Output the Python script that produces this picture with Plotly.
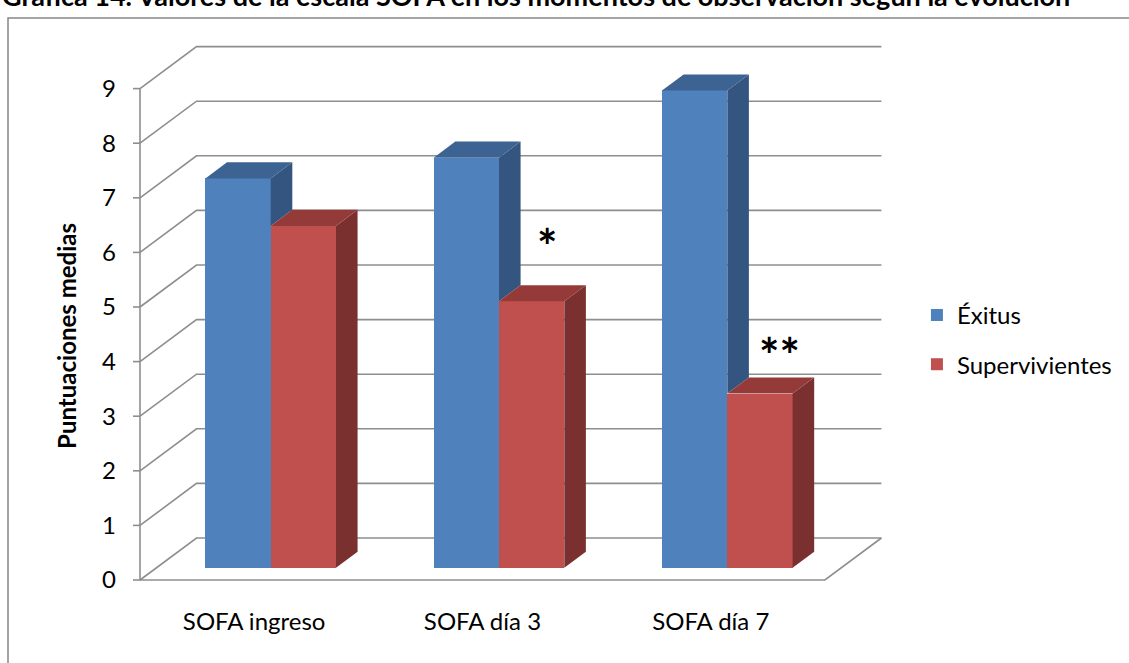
import plotly.graph_objects as go

# ---- data -------------------------------------------------------------
categories = ["SOFA ingreso", "SOFA día 3", "SOFA día 7"]
exitus = [7.13, 7.51, 8.74]
supervivientes = [6.26, 4.88, 3.19]
y_ticks = list(range(0, 10))
significance = ["", "*", "**"]
title_text = ("Gráfica 14. Valores de la escala SOFA en los momentos de "
              "observación según la evolución")

# ---- pseudo-3D geometry (in axis units) -------------------------------
DX, DY = 0.2475, 0.769        # depth offset of the back wall
T0, T1 = 0.293, 0.675         # bar front / back depth (fraction of DX, DY)
W = 0.286                     # bar width (category units)

FONT = "Lato, 'Open Sans', sans-serif"
GRID = "#8e8e8e"

front = {"Éxitus": "#4F81BD", "Supervivientes": "#C0504D"}
top = {"Éxitus": "#3C6392", "Supervivientes": "#943B39"}
side = {"Éxitus": "#33557F", "Supervivientes": "#79302E"}

# where each significance mark sits (x in categories, y in score units)
mark_pos = {1: (1.783, 6.12), 2: (2.799, 4.13)}


def depth(x, v, t):
    return x + t * DX, v + t * DY


fig = go.Figure()

# walls: gridlines, floor, front axis and tick marks
shapes = []
for v in y_ticks:
    x0, y0 = 0, v
    x1, y1 = depth(0, v, 1)
    x2, y2 = depth(len(categories), v, 1)
    shapes.append(dict(type="path", xref="x", yref="y", layer="below",
                       path=f"M{x0},{y0} L{x1},{y1} L{x2},{y2}",
                       line=dict(color=GRID, width=1.6)))
    shapes.append(dict(type="line", xref="x", yref="y", layer="below",
                       x0=-7 / 228.3, x1=0, y0=v, y1=v,
                       line=dict(color=GRID, width=1.6)))
fx, fy = depth(len(categories), 0, 1)
shapes.append(dict(type="path", xref="x", yref="y", layer="below",
                   path=f"M0,0 L{len(categories)},0 L{fx},{fy}",
                   line=dict(color=GRID, width=1.6)))
shapes.append(dict(type="line", xref="x", yref="y", layer="below",
                   x0=0, x1=0, y0=0, y1=max(y_ticks),
                   line=dict(color=GRID, width=1.6)))
# outer chart frame
shapes.append(dict(type="rect", xref="paper", yref="paper",
                   x0=-0.1436, x1=1.6, y0=-0.4, y1=1.048,
                   line=dict(color="#878787", width=1.5)))

series = [("Éxitus", exitus), ("Supervivientes", supervivientes)]

# front faces as bars
for s, (name, vals) in enumerate(series):
    centers = [i + 0.5 - W + s * W + W / 2 + T0 * DX for i in range(len(categories))]
    fig.add_trace(go.Bar(
        x=centers, y=vals, base=T0 * DY, width=W, name=name,
        legendgroup=name,
        marker=dict(color=front[name], line=dict(width=0)),
        hovertemplate=name + ": %{y}<extra></extra>",
    ))


def poly(points, color):
    xs = [p[0] for p in points] + [points[0][0]]
    ys = [p[1] for p in points] + [points[0][1]]
    fig.add_trace(go.Scatter(x=xs, y=ys, mode="lines", fill="toself",
                             fillcolor=color, line=dict(width=0, color=color),
                             showlegend=False, hoverinfo="skip"))


# top and side faces
for i in range(len(categories)):
    c = i + 0.5
    for s, (name, vals) in enumerate(series):
        xl = c - W + s * W
        xr = xl + W
        v = vals[i]
        # side face: the neighbouring bar hides the lower part
        low = 0
        if s == 0:
            low = min(supervivientes[i], v)
        poly([depth(xr, low, T0), depth(xr, low, T1),
              depth(xr, v, T1), depth(xr, v, T0)], side[name])
        poly([depth(xl, v, T0), depth(xr, v, T0),
              depth(xr, v, T1), depth(xl, v, T1)], top[name])

annotations = []
# significance marks next to the survivors' bars
for i, mark in enumerate(significance):
    if not mark:
        continue
    mx, my = mark_pos[i]
    annotations.append(dict(
        x=mx, y=my, xref="x", yref="y", text=f"<b>{mark}</b>",
        showarrow=False, font=dict(family=FONT, size=48, color="#000000"),
        xanchor="center", yanchor="middle"))

annotations.append(dict(
    x=-0.0675, y=0.46, xref="paper", yref="paper",
    text="<b>Puntuaciones medias</b>", textangle=-90, showarrow=False,
    font=dict(family=FONT, size=24, color="#000000"),
    xanchor="center", yanchor="middle"))

annotations.append(dict(
    x=-0.154, y=1.055, xref="paper", yref="paper",
    text=f"<b>{title_text}</b>", showarrow=False,
    font=dict(family=FONT, size=27, color="#000000"),
    xanchor="left", yanchor="bottom"))

fig.update_layout(
    width=1129, height=663,
    margin=dict(l=118, r=245, t=44, b=79),
    paper_bgcolor="white", plot_bgcolor="white",
    barmode="overlay", bargap=0,
    shapes=shapes, annotations=annotations,
    font=dict(family=FONT, size=24, color="#000000"),
    legend=dict(x=1.043, y=0.452, xanchor="left", yanchor="middle",
                bgcolor="rgba(0,0,0,0)", tracegroupgap=15,
                font=dict(family=FONT, size=24, color="#000000")),
    xaxis=dict(range=[-22 / 228.3, 744 / 228.3], tickvals=[0.5, 1.5, 2.5],
               ticktext=categories, showgrid=False, zeroline=False,
               showline=False, ticks="", ticklabelstandoff=21,
               fixedrange=True),
    yaxis=dict(range=[-4 / 54.6, 536 / 54.6], tickvals=y_ticks,
               showgrid=False, zeroline=False, showline=False, ticks="",
               ticklabelstandoff=1, fixedrange=True),
)

fig.write_html("out.html")
